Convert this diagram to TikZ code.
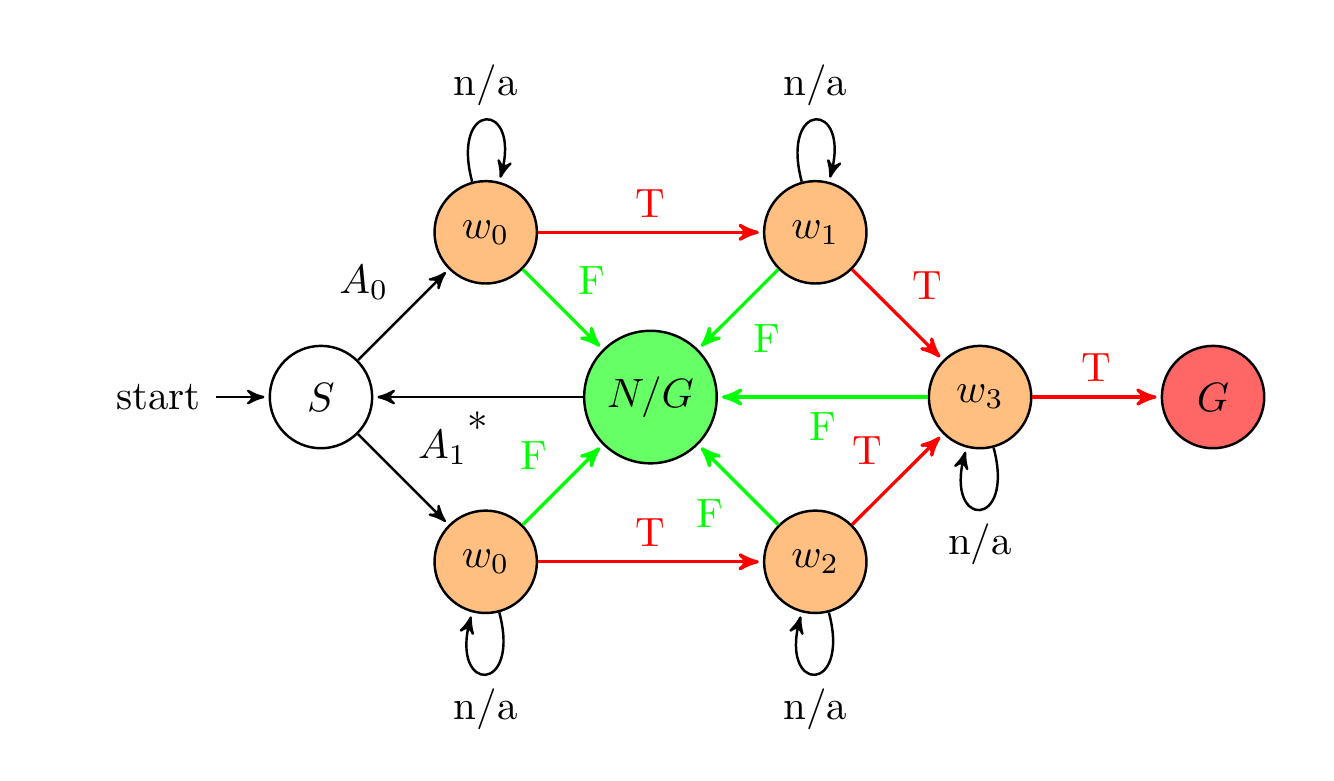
\documentclass[tikz,border=0pt]{standalone}
\usepackage{amsmath}
\usepackage{xcolor}
\usetikzlibrary{automata}
\usetikzlibrary{arrows}
\tikzset{
  wstate/.style={state, fill=orange!50},
  tedge/.style={red, thick},
  fedge/.style={green, thick}
}

\begin{document}
\begin{tikzpicture}[->,>=stealth',shorten >=1pt,auto,semithick]
		\useasboundingbox (-2.755,-3.288) rectangle (8.695,3.408);
		
		%draw states
		\node[initial,state] (S) at (0,0) {$S$};
		\node[wstate] (w0a) at (1.414,1.414) {$w_0$};
		\node[wstate] (w0b) at (1.414,-1.414) {$w_0$};
		\node[state, fill=green!60] (NG) at (2.828,0) {$N/G$};
		\node[wstate] (w1) at (4.243,1.414) {$w_1$};
		\node[wstate] (w2) at (4.243,-1.414) {$w_2$};
		\node[wstate] (w3) at (5.657,0) {$w_3$};
		\node[state, fill=red!60] (G) at (7.657,0) {$G$};
		
		%start edges
		\path (S) edge node {$A_0$} (w0a)
		          edge node {$A_1$} (w0b);
		\path (NG) edge node {*} (S);
		
		%true edges
		\path[tedge] (w0a) edge node {T} (w1)
		             (w0b) edge node {T} (w2)
		             (w1) edge node {T} (w3)
		             (w2) edge node {T} (w3)
		             (w3) edge node {T} (G);
		
		%false edges
		\path[fedge] (w0a) edge node {F} (NG)
		             (w0b) edge node {F} (NG)
		             (w1) edge node {F} (NG)
		             (w2) edge node {F} (NG)
		             (w3) edge node {F} (NG);
		
		%loops
		\path (w0a) edge[loop above] node {n/a} ()
		      (w1) edge[loop above] node {n/a} ()
		      (w0b) edge[loop below] node {n/a} ()
		      (w2) edge[loop below] node {n/a} ()
		      (w3) edge[loop below] node {n/a} ();
	\end{tikzpicture}
\end{document}
